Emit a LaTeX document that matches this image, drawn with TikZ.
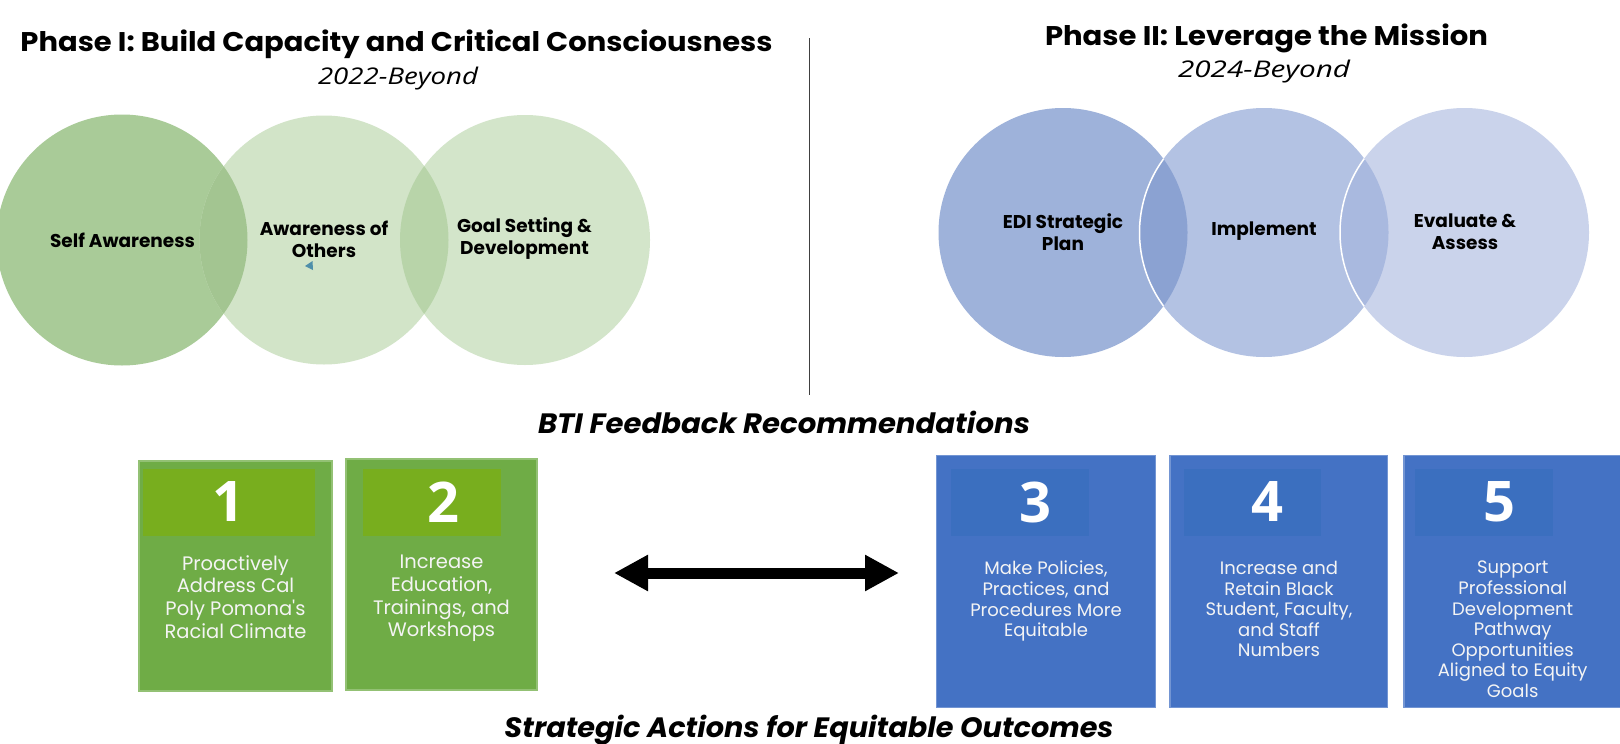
\documentclass[tikz,border=0pt]{standalone}
\usepackage{fontspec}
\usepackage{graphicx}
\usetikzlibrary{arrows.meta}

\newfontfamily\gothic{Poppins}
\newfontfamily\opensans{Open Sans}
% stretch a one-line text to a given width, keeping its height
\newcommand{\fitw}[2]{\resizebox{#1}{\height}{#2}}

\definecolor{gOne}{HTML}{A9CB98}
\definecolor{gTwo}{HTML}{D2E4C8}
\definecolor{gThree}{HTML}{D3E5CA}
\definecolor{gOneTwo}{HTML}{A3C591}
\definecolor{gTwoThree}{HTML}{B8D4A9}
\definecolor{bOne}{HTML}{9EB2DA}
\definecolor{bTwo}{HTML}{B3C2E3}
\definecolor{bThree}{HTML}{CAD3EB}
\definecolor{bOneTwo}{HTML}{8BA2D2}
\definecolor{bTwoThree}{HTML}{A9B9DF}
\definecolor{greenBox}{HTML}{6FAC46}
\definecolor{greenBand}{HTML}{78AE1E}
\definecolor{blueBox}{HTML}{4472C4}
\definecolor{blueBand}{HTML}{3B6FBF}
\definecolor{boxText}{HTML}{F4F4F4}
\definecolor{tealMark}{HTML}{4F8FAA}
\definecolor{divider}{HTML}{404040}

\tikzset{
  titletext/.style={font=\gothic\bfseries\fontsize{27}{30}\selectfont, anchor=base, inner sep=0pt},
  yeartext/.style={font=\opensans\itshape\fontsize{23}{26}\selectfont, anchor=base, inner sep=0pt},
  headtext/.style={font=\gothic\bfseries\itshape\fontsize{28}{30}\selectfont, anchor=base, inner sep=0pt},
  circlabel/.style={font=\gothic\bfseries\fontsize{18.5}{22}\selectfont, align=center, inner sep=0pt},
  greenbox/.style={rectangle, fill=greenBox, draw=greenBox!75!white, line width=1.2pt, inner sep=0pt},
  bluebox/.style={rectangle, fill=blueBox, draw=blueBox!75!white, line width=1.2pt, inner sep=0pt},
  greenband/.style={rectangle, fill=greenBand, inner sep=0pt, minimum height=67pt},
  blueband/.style={rectangle, fill=blueBand, inner sep=0pt, minimum height=66.7pt},
  numtext/.style={font=\opensans\bfseries\fontsize{56}{60}\selectfont, text=white, inner sep=0pt},
  greentext/.style={font=\gothic\fontsize{19.5}{22.7}\selectfont, text=boxText, align=center, anchor=north, inner sep=0pt},
  bluetext/.style={font=\gothic\fontsize{18}{20.6}\selectfont, text=boxText, align=center, anchor=north, inner sep=0pt},
  bigarrow/.style={line width=11pt, {Triangle[length=34pt,width=34pt]}-{Triangle[length=34pt,width=34pt]}}
}

\begin{document}
\begin{tikzpicture}[x=1pt,y=-1pt]
\useasboundingbox (0,0) rectangle (1620,744);
\fill[white] (0,0) rectangle (1620,744);

% ---------- Phase I: three green circles ----------
\fill[gOne]   (122,240) circle[radius=125.5pt];
\fill[gTwo]   (324,240) circle[radius=124.5pt];
\fill[gThree] (525,240) circle[radius=125pt];
\begin{scope}
  \clip (122,240) circle[radius=125.5pt];
  \fill[gOneTwo] (324,240) circle[radius=124.5pt];
\end{scope}
\begin{scope}
  \clip (324,240) circle[radius=124.5pt];
  \fill[gTwoThree] (525,240) circle[radius=125pt];
\end{scope}
\fill[tealMark] (305,266) -- (312.5,261) -- (313,270) -- cycle;

% ---------- Phase II: three blue circles ----------
\fill[bOne]   (1063,232.5) circle[radius=124.5pt];
\fill[bTwo]   (1264,232.5) circle[radius=124.5pt];
\fill[bThree] (1464.5,232.5) circle[radius=124.5pt];
\begin{scope}
  \clip (1063,232.5) circle[radius=124.5pt];
  \fill[bOneTwo] (1264,232.5) circle[radius=124.5pt];
\end{scope}
\begin{scope}
  \clip (1264,232.5) circle[radius=124.5pt];
  \fill[bTwoThree] (1464.5,232.5) circle[radius=124.5pt];
\end{scope}
\begin{scope}
  \clip (1063,232.5) circle[radius=124.5pt];
  \draw[white, line width=1.5pt] (1264,232.5) circle[radius=124.5pt];
\end{scope}
\begin{scope}
  \clip (1264,232.5) circle[radius=124.5pt];
  \draw[white, line width=1.5pt] (1464.5,232.5) circle[radius=124.5pt];
\end{scope}

% ---------- titles ----------
\node[titletext] (phaseone) at (396.5,51.7) {\fitw{752pt}{Phase I: Build Capacity and Critical Consciousness}};
\node[yeartext]  (yearone)  at (398,84) {\fitw{160pt}{2022-Beyond}};
\node[titletext] (phasetwo) at (1266.5,45) {\fitw{443pt}{Phase II: Leverage the Mission}};
\node[yeartext]  (yeartwo)  at (1264,77) {\fitw{172pt}{2024-Beyond}};

% divider between the phases
\coordinate (divtop) at (809.5,38);
\coordinate (divbot) at (809.5,395);
\draw[divider, line width=1.1pt] (divtop) -- (divbot);

% ---------- circle labels ----------
\node[circlabel] (selfaw)  at (122.5,240) {Self Awareness};
\node[circlabel] (othersaw) at (324,239) {Awareness of\\Others};
\node[circlabel] (goalset) at (524.5,239) {Goal Setting \&\\Development};
\node[circlabel] (ediplan) at (1063,232) {EDI Strategic\\Plan};
\node[circlabel] (implement) at (1264,231) {Implement};
\node[circlabel] (evalassess) at (1465,232) {Evaluate \&\\Assess};

% ---------- section headings ----------
\node[headtext] (bti) at (784,433.5) {\fitw{492pt}{BTI Feedback Recommendations}};
\node[headtext] (strategic) at (809,737) {\fitw{609pt}{Strategic Actions for Equitable Outcomes}};

% ---------- green recommendation boxes ----------
\node[greenbox, minimum width=193pt, minimum height=230pt] (boxone) at (235.5,576) {};
\node[greenbox, minimum width=191pt, minimum height=231pt] (boxtwo) at (441.5,574.5) {};
\node[greenband, minimum width=172pt] (bandone) at (229,502.5) {};
\node[greenband, minimum width=138pt] (bandtwo) at (432,502.5) {};
\node[numtext] (numone) at (228,502) {1};
\node[numtext] (numtwo) at (443,502) {2};
\node[greentext] (textone) at (235.5,555) {Proactively\\Address Cal\\Poly Pomona's\\Racial Climate};
\node[greentext] (texttwo) at (441.5,555) {Increase\\Education,\\Trainings, and\\Workshops};

% ---------- blue recommendation boxes ----------
\node[bluebox, minimum width=219pt, minimum height=252pt] (boxthree) at (1046.2,581.7) {};
\node[bluebox, minimum width=217.7pt, minimum height=252pt] (boxfour) at (1278.8,581.7) {};
\node[bluebox, minimum width=217pt, minimum height=252pt] (boxfive) at (1512.5,581.7) {};
\node[blueband, minimum width=138.3pt] (bandthree) at (1019.8,502.3) {};
\node[blueband, minimum width=137pt] (bandfour) at (1252.5,502.3) {};
\node[blueband, minimum width=137.7pt] (bandfive) at (1483.8,502.3) {};
\node[numtext] (numthree) at (1035,502) {3};
\node[numtext] (numfour) at (1267,502) {4};
\node[numtext] (numfive) at (1499,502) {5};
\node[bluetext] (textthree) at (1046,561) {Make Policies,\\Practices, and\\Procedures More\\Equitable};
\node[bluetext] (textfour) at (1279,561) {Increase and\\Retain Black\\Student, Faculty,\\and Staff\\Numbers};
\node[bluetext] (textfive) at (1512.7,561) {Support\\Professional\\Development\\Pathway\\Opportunities\\Aligned to Equity\\Goals};

% ---------- double arrow between the two groups ----------
\coordinate (arrleft) at (614,573);
\coordinate (arrright) at (899,573);
\draw[bigarrow] (arrleft) -- (arrright);
\end{tikzpicture}
\end{document}
